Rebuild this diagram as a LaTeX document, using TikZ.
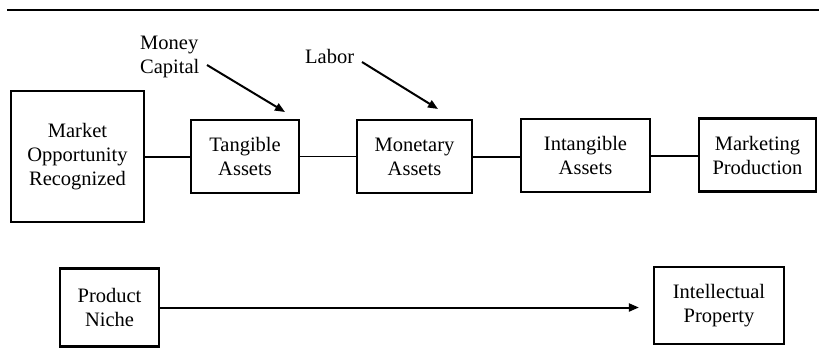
\documentclass[tikz,border=0pt]{standalone}
\usepackage{fontspec}
\setmainfont{Liberation Serif}
\usetikzlibrary{arrows.meta}
\begin{document}
\begin{tikzpicture}[x=1pt,y=-1pt,
  box/.style={draw, line width=2.2pt, align=center, inner sep=0pt,
    font=\fontsize{20.5}{24}\selectfont},
  link/.style={line width=2pt},
  thinlink/.style={line width=1.3pt},
  tip/.style={-{Triangle[length=10pt,width=8pt]}},
  feed/.style={line width=2pt, tip},
  lbl/.style={inner sep=0pt, align=left, font=\fontsize{20.5}{24}\selectfont}]
  \useasboundingbox (0,0) rectangle (819,362);
  % top rule
  \draw[line width=2.2pt] (7,10) -- (819,10);
  % chain of boxes
  \node[box, minimum width=133pt, minimum height=131pt] (mo) at (77.5,156.5) {Market\\Opportunity\\Recognized};
  \node[box, minimum width=108pt, minimum height=73pt] (ta) at (245,156.5) {Tangible\\Assets};
  \node[box, minimum width=115pt, minimum height=73pt] (ma) at (414.5,156.5) {Monetary\\Assets};
  \node[box, minimum width=129pt, minimum height=73pt] (ia) at (585.5,155.5) {Intangible\\Assets};
  \node[box, minimum width=117pt, minimum height=73pt] (mp) at (757.5,155) {Marketing\\Production};
  \draw[link] (mo.east) -- (ta.west);
  \draw[thinlink] (ta.east) -- (ma.west);
  \draw[link] (ma.east) -- (ia.west |- ma.east);
  \draw[link] (ia.east) -- (mp.west |- ia.east);
  % inputs
  \node[lbl, anchor=west] (mc) at (140,57) {Money\\Capital};
  \node[lbl, anchor=base west] (lab) at (305,63) {Labor};
  \coordinate (mcs) at (207,65);
  \coordinate (mce) at (285,112);
  \coordinate (las) at (362,62);
  \coordinate (lae) at (438,109);
  \draw[feed] (mcs) -- (mce);
  \draw[feed] (las) -- (lae);
  % lower row
  \node[box, minimum width=99pt, minimum height=78pt] (pn) at (109.5,307.5) {Product\\Niche};
  \node[box, minimum width=130pt, minimum height=77pt] (ip) at (719,305.5) {Intellectual\\Property};
  \draw[link, tip, shorten >=14pt] (pn.east) -- (ip.west |- pn.east);
\end{tikzpicture}
\end{document}
